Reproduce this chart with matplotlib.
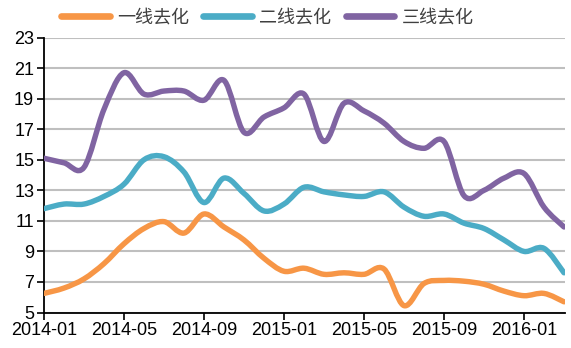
import matplotlib
matplotlib.use('Agg')
import matplotlib.pyplot as plt
import numpy as np
from matplotlib.path import Path
from matplotlib.patches import PathPatch
from matplotlib.lines import Line2D

# 月份 2014-01 ~ 2016-03
months = ['2014-01', '2014-02', '2014-03', '2014-04', '2014-05', '2014-06', '2014-07',
          '2014-08', '2014-09', '2014-10', '2014-11', '2014-12', '2015-01', '2015-02',
          '2015-03', '2015-04', '2015-05', '2015-06', '2015-07', '2015-08', '2015-09',
          '2015-10', '2015-11', '2015-12', '2016-01', '2016-02', '2016-03']

tier1 = [6.25, 6.6, 7.2, 8.2, 9.5, 10.5, 10.95, 10.2, 11.45, 10.6, 9.75, 8.55, 7.7, 7.9,
         7.5, 7.6, 7.5, 7.85, 5.45, 6.9, 7.1, 7.05, 6.85, 6.4, 6.1, 6.25, 5.7]
tier2 = [11.8, 12.1, 12.1, 12.6, 13.4, 15.0, 15.2, 14.2, 12.2, 13.8, 12.8, 11.65, 12.1, 13.2,
         12.9, 12.7, 12.6, 12.9, 11.9, 11.3, 11.45, 10.85, 10.5, 9.75, 9.0, 9.2, 7.6]
tier3 = [15.1, 14.8, 14.5, 18.3, 20.7, 19.3, 19.5, 19.5, 18.9, 20.2, 16.8, 17.8, 18.4, 19.3,
         16.2, 18.7, 18.2, 17.4, 16.2, 15.75, 16.2, 12.65, 13.0, 13.8, 14.1, 11.9, 10.6]

labels = ['一线去化', '二线去化', '三线去化']
colors = ['#F79646', '#4BACC6', '#8064A2']
yticks = [5, 7, 9, 11, 13, 15, 17, 19, 21, 23]


def smooth_path(x, y):
    # Excel 风格的平滑曲线(贝塞尔)
    pts = np.column_stack([x, y])
    n = len(pts)
    verts = [pts[0]]
    codes = [Path.MOVETO]
    for i in range(n - 1):
        p0 = pts[i - 1] if i > 0 else pts[i]
        p1 = pts[i]
        p2 = pts[i + 1]
        p3 = pts[i + 2] if i + 2 < n else pts[i + 1]
        c1 = p1 + (p2 - p0) / 6.0
        c2 = p2 - (p3 - p1) / 6.0
        verts += [c1, c2, p2]
        codes += [Path.CURVE4] * 3
    return Path(verts, codes)


plt.rcParams['font.family'] = ['Liberation Sans Narrow', 'Liberation Sans', 'DejaVu Sans']

fig = plt.figure(figsize=(5.71, 3.48), dpi=100)
ax = fig.add_axes([0.077, 0.102, 0.9125, 0.790])

x = np.arange(len(months))
for data, c in zip([tier3, tier2, tier1], [colors[2], colors[1], colors[0]]):
    patch = PathPatch(smooth_path(x, data), facecolor='none', edgecolor=c,
                      lw=3.9, capstyle='round', joinstyle='round', zorder=3)
    ax.add_patch(patch)

ax.set_xlim(0, 26.05)
ax.set_ylim(5, 23)
ax.set_yticks(yticks)
ax.set_xticks(x[::4])
ax.set_xticklabels(months[::4])
ax.tick_params(axis='both', labelsize=13, length=5, width=1.2, direction='out', pad=2)
ax.yaxis.grid(True, color='#BFBFBF', lw=1.5)
ax.set_axisbelow(True)
for s in ['top', 'right']:
    ax.spines[s].set_visible(False)
for s in ['left', 'bottom']:
    ax.spines[s].set_linewidth(1.3)

handles = [Line2D([], [], color=c, lw=4.8, solid_capstyle='round') for c in colors]
leg = fig.legend(handles, labels, loc='center', bbox_to_anchor=(0.468, 0.951), ncol=3,
                 frameon=False, handlelength=2.7, handletextpad=0.4, columnspacing=0.8,
                 prop={'family': ['Noto Sans CJK SC', 'DejaVu Sans'], 'size': 13})
for t in leg.get_texts():
    t.set_color('#404040')

fig.savefig('out.png', dpi=100)
